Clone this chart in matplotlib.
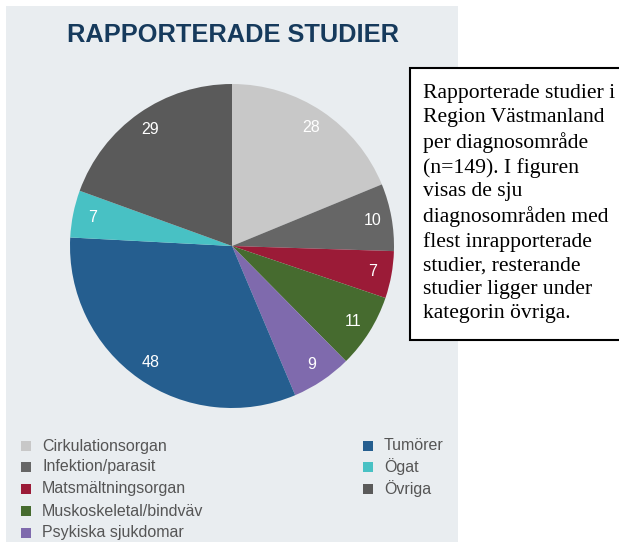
import matplotlib.pyplot as plt
from matplotlib.patches import Rectangle

# data
labels = ['Cirkulationsorgan', 'Infektion/parasit', 'Matsmältningsorgan',
          'Muskoskeletal/bindväv', 'Psykiska sjukdomar', 'Tumörer', 'Ögat', 'Övriga']
values = [28, 10, 7, 11, 9, 48, 7, 29]
colors = ['#c8c8c8', '#666666', '#9b1b37', '#466b2f', '#7f6aad', '#255e8f', '#48c1c4', '#5a5a5a']

note = ("Rapporterade studier i\nRegion Västmanland\nper diagnosområde\n"
        "(n=149). I figuren\nvisas de sju\ndiagnosområden med\n"
        "flest inrapporterade\nstudier, resterande\nstudier ligger under\n"
        "kategorin övriga.")

W, H = 619, 542
fig = plt.figure(figsize=(W / 100, H / 100), dpi=100)
fig.patch.set_facecolor('white')

def fx(px):
    return px / W

def fy(py):
    return 1 - py / H

# grey panel
fig.patches.append(Rectangle((fx(6), 0), fx(458) - fx(6), fy(6), transform=fig.transFigure,
                             facecolor='#e9edf0', edgecolor='none', zorder=-10))

fig.text(fx(233), fy(35), 'RAPPORTERADE STUDIER', ha='center', va='center',
         fontsize=18.3, fontweight='bold', color='#163a5c', family='Liberation Sans')

# pie
cx, cy, r = 232, 246, 162
ax = fig.add_axes([fx(cx - r), fy(cy + r), 2 * r / W, 2 * r / H])
ax.set_zorder(1)
ax.patch.set_visible(False)
ax.pie(values, colors=colors, startangle=90, counterclock=False,
       autopct=lambda p: f'{p * sum(values) / 100:.0f}', pctdistance=0.88,
       textprops=dict(color='white', fontsize=11.5, family='Liberation Sans'),
       wedgeprops=dict(linewidth=0))
ax.set_xlim(-1, 1)
ax.set_ylim(-1, 1)
ax.axis('off')

# legend drawn by hand, 5 + 3 items
rows = [446, 467, 489, 511, 533]
for i, (lab, col) in enumerate(zip(labels, colors)):
    if i < 5:
        sx, tx, yy = 26, 42, rows[i]
    else:
        sx, tx, yy = 368, 384, rows[i - 5]
    fig.patches.append(Rectangle((fx(sx - 5), fy(yy + 5)), 10 / W, 10 / H,
                                 transform=fig.transFigure, facecolor=col,
                                 edgecolor='none', zorder=2))
    fig.text(fx(tx), fy(yy), lab, ha='left', va='center', fontsize=11.5,
             color='#555555', family='Liberation Sans')

# note box
fig.patches.append(Rectangle((fx(410), fy(340)), fx(640) - fx(410), fy(68) - fy(340),
                             transform=fig.transFigure, facecolor='white',
                             edgecolor='black', linewidth=1.5, zorder=3))
fig.text(fx(423), fy(84), note, ha='left', va='top', fontsize=15.6,
         family='Liberation Serif', color='black', linespacing=1.33, zorder=4)

fig.savefig('out.png', dpi=100)
